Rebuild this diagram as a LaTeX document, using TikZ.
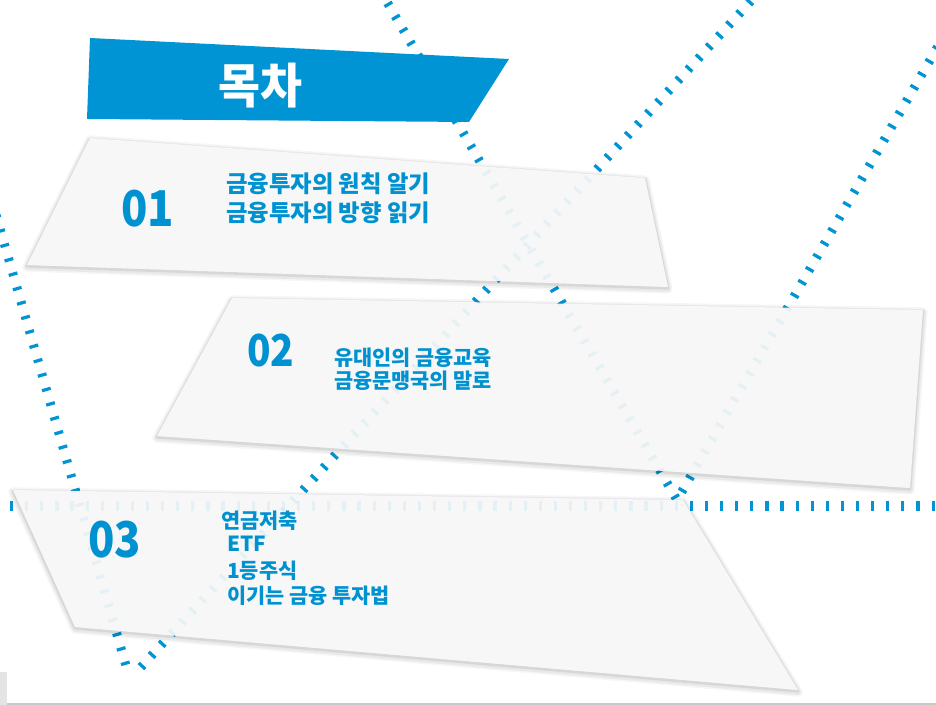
\documentclass[tikz,border=0pt]{standalone}
\usepackage{fontspec}
\newfontfamily\kr{Noto Sans CJK KR}[FakeStretch=0.88]
\newfontfamily\krt{Noto Sans CJK KR}
\newfontfamily\krh{Noto Sans CJK KR}[FakeStretch=0.95]
\definecolor{tickblue}{RGB}{0,148,212}
\definecolor{txtblue}{RGB}{0,146,208}
\definecolor{bannerblue}{RGB}{0,148,212}
\definecolor{cardfill}{RGB}{247,247,247}
\definecolor{edgegray}{RGB}{228,228,228}
\definecolor{linegray}{RGB}{200,200,200}
\newcommand\drawTickLines[1]{%
  \draw[tickline,#1] (a1) -- (a2);
  \draw[tickline,#1] (b1) -- (b2);
  \draw[tickline,#1] (c1) -- (c2);
  \draw[tickline,#1] (d1) -- (d2);
  \draw[hticks,#1] (e1) -- (e2);
}
\begin{document}
\begin{tikzpicture}[x=0.75pt,y=-0.75pt,
  tickline/.style={draw=tickblue,line width=6.75pt,dash pattern=on 2.4pt off 8.85pt},
  hticks/.style={draw=tickblue,line width=7.5pt,dash pattern=on 2.4pt off 8.93pt},
  faint/.style={draw opacity=0.07},
  cardshadow/.style={
    preaction={draw=black,draw opacity=0.035,line width=7pt,line join=round,transform canvas={yshift=-1.5pt}},
    preaction={draw=black,draw opacity=0.05,line width=4.5pt,line join=round,transform canvas={yshift=-1.5pt}},
    preaction={draw=black,draw opacity=0.08,line width=2pt,line join=round,transform canvas={yshift=-1pt}}},
  card/.style={cardshadow,fill=cardfill},
  banner/.style={fill=bannerblue},
  numtxt/.style={inner sep=0pt,anchor=base west,text=txtblue,font=\kr\bfseries\fontsize{37pt}{40pt}\selectfont},
  itemA/.style={inner sep=0pt,anchor=base west,text=txtblue,font=\krt\bfseries\fontsize{17.5pt}{20pt}\selectfont},
  itemB/.style={inner sep=0pt,anchor=base west,text=txtblue,font=\krt\bfseries\fontsize{15.6pt}{19pt}\selectfont},
  titletxt/.style={inner sep=0pt,anchor=base,text=white,font=\krh\bfseries\fontsize{36pt}{40pt}\selectfont}
]
\useasboundingbox (0,0) rectangle (936,705);

% tick line end points
\coordinate (a1) at (380,-10);  \coordinate (a2) at (677,500);
\coordinate (b1) at (761,-10);  \coordinate (b2) at (120,690);
\coordinate (c1) at (960,8);    \coordinate (c2) at (677,500);
\coordinate (d1) at (-4,215);   \coordinate (d2) at (133,690);
\coordinate (e1) at (10,506);   \coordinate (e2) at (945,506);

% bottom strip
\fill[edgegray] (0,672) rectangle (7,705);
\draw[linegray,line width=1.2pt] (7,704) -- (936,704);

% ticks, full colour
\begin{scope}
  \clip (-20,-20) rectangle (960,672);
  \drawTickLines{}
\end{scope}

% title banner
\coordinate (t1) at (90,38);  \coordinate (t2) at (509,59);
\coordinate (t3) at (469,122); \coordinate (t4) at (87,119);
\fill[banner] (t1) -- (t2) -- (t3) -- (t4) -- cycle;

% cards
\coordinate (p1) at (90,138);  \coordinate (p2) at (645,178);
\coordinate (p3) at (668,287); \coordinate (p4) at (27,265);
\path[card] (p1) -- (p2) -- (p3) -- (p4) -- cycle;

\coordinate (q1) at (232,298); \coordinate (q2) at (923,310);
\coordinate (q3) at (910,488); \coordinate (q4) at (157,436);
\path[card] (q1) -- (q2) -- (q3) -- (q4) -- cycle;

\coordinate (r1) at (13,490);  \coordinate (r2) at (683,500);
\coordinate (r3) at (798,690); \coordinate (r4) at (75,627);
\path[card] (r1) -- (r2) -- (r3) -- (r4) -- cycle;

% ticks seen faintly through the cards
\begin{scope}
  \clip (-20,-20) rectangle (960,672);
  \drawTickLines{faint}
\end{scope}

% texts
\node[titletxt] (title) at (260,104) {목차};

\node[numtxt] (n1) at (121,227) {01};
\node[itemA] (l11) at (226,193) {금융투자의 원칙 알기};
\node[itemA] (l12) at (226,222) {금융투자의 방향 읽기};

\node[numtxt,font=\kr\bfseries\fontsize{33pt}{36pt}\selectfont] (n2) at (247,367) {02};
\node[itemB] (l21) at (334,366) {유대인의 금융교육};
\node[itemB] (l22) at (334,389) {금융문맹국의 말로};

\node[numtxt] (n3) at (88,558) {03};
\node[itemB] (l31) at (221,529) {연금저축};
\node[itemB] (l32) at (227,552) {ETF};
\node[itemB] (l33) at (227,579) {1등주식};
\node[itemB] (l34) at (227,604) {이기는 금융 투자법};
\end{tikzpicture}
\end{document}
